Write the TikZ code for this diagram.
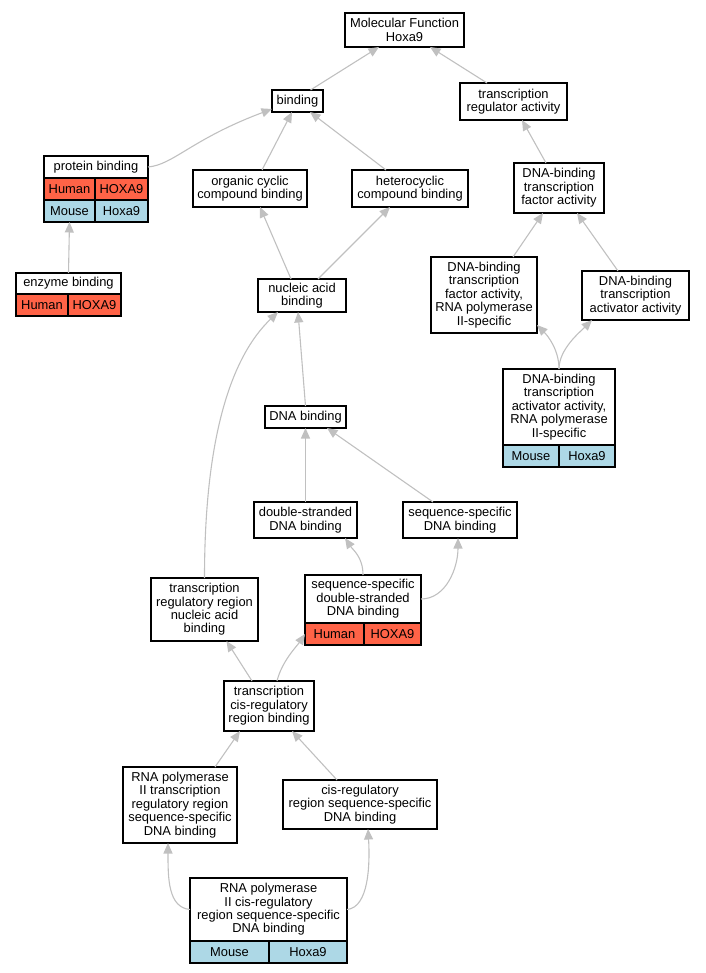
\documentclass[tikz,border=0pt]{standalone}
\usepackage{fontspec}
\setmainfont{Liberation Sans}
\usetikzlibrary{arrows.meta}
\definecolor{human}{HTML}{FF6347}
\definecolor{mouse}{HTML}{ADD8E6}
\definecolor{edgegray}{HTML}{C0C0C0}

\begin{document}
\begin{tikzpicture}[
				x=1pt,y=-1pt,
				term/.style={draw,rectangle,fill=white,line width=1.2pt,inner sep=0pt,outer sep=0pt,align=center,font=\fontsize{12.9}{13.4}\selectfont},
				human/.style={term,fill=human,minimum height=22pt},
				mouse/.style={term,fill=mouse,minimum height=22pt},
				isa/.style={draw=edgegray,line width=1.1pt,-{Triangle[length=10.5pt,width=9pt]}}
				]
				
				\useasboundingbox (0,0) rectangle (705,973);
				
				% Radice e primo livello
				\node[term,minimum width=119pt,minimum height=34pt] (mf) at (404.5,30) {Molecular Function\\Hoxa9};
				\node[term,minimum width=51pt,minimum height=22pt] (bind) at (297.5,101) {binding};
				\node[term,minimum width=107pt,minimum height=37pt] (tra) at (513.5,101.5) {transcription\\regulator activity};
				
				% protein binding (record)
				\node[term,minimum width=104pt,minimum height=22pt] (prot) at (96,167) {protein binding};
				\node[human,minimum width=51pt,anchor=north west] (prot-h1) at (prot.south west) {Human};
				\node[human,minimum width=53pt,anchor=north east] (prot-h2) at (prot.south east) {HOXA9};
				\node[mouse,minimum width=51pt,anchor=north west] (prot-m1) at (prot-h1.south west) {Mouse};
				\node[mouse,minimum width=53pt,anchor=north east] (prot-m2) at (prot-h2.south east) {Hoxa9};
				
				% enzyme binding (record)
				\node[term,minimum width=105pt,minimum height=21pt] (enz) at (68.5,283.5) {enzyme binding};
				\node[human,minimum width=52pt,anchor=north west] (enz-h1) at (enz.south west) {Human};
				\node[human,minimum width=53pt,anchor=north east] (enz-h2) at (enz.south east) {HOXA9};
				
				% Secondo livello
				\node[term,minimum width=114pt,minimum height=37pt] (org) at (250,188.5) {organic cyclic\\compound binding};
				\node[term,minimum width=116pt,minimum height=37pt] (het) at (410,188.5) {heterocyclic\\compound binding};
				\node[term,minimum width=90pt,minimum height=50pt] (dbtf) at (559,188) {DNA-binding\\transcription\\factor activity};
				
				% Terzo livello
				\node[term,minimum width=88pt,minimum height=33pt] (nab) at (302,295.5) {nucleic acid\\binding};
				\node[term,minimum width=106pt,minimum height=76pt] (dbtf2) at (484,295) {DNA-binding\\transcription\\factor activity,\\RNA polymerase\\II-specific};
				\node[term,minimum width=107pt,minimum height=49pt] (dbta) at (635.5,295.5) {DNA-binding\\transcription\\activator activity};
				
				% DBTA RNA pol II (record)
				\node[term,minimum width=112pt,minimum height=76pt] (dbta2) at (559,407) {DNA-binding\\transcription\\activator activity,\\RNA polymerase\\II-specific};
				\node[mouse,minimum width=56pt,anchor=north west] (dbta2-m1) at (dbta2.south west) {Mouse};
				\node[mouse,minimum width=56pt,anchor=north east] (dbta2-m2) at (dbta2.south east) {Hoxa9};
				
				% DNA binding
				\node[term,minimum width=81pt,minimum height=22pt] (dnab) at (305.5,417) {DNA binding};
				\node[term,minimum width=103pt,minimum height=36pt] (ds) at (305.5,520) {double-stranded\\DNA binding};
				\node[term,minimum width=114pt,minimum height=36pt] (ss) at (460,520) {sequence-specific\\DNA binding};
				\node[term,minimum width=107pt,minimum height=63pt] (trr) at (204.5,609.5) {transcription\\regulatory region\\nucleic acid\\binding};
				
				% sequence-specific double-stranded (record)
				\node[term,minimum width=116pt,minimum height=48pt] (ssds) at (363,599) {sequence-specific\\double-stranded\\DNA binding};
				\node[human,minimum width=59pt,anchor=north west] (ssds-h1) at (ssds.south west) {Human};
				\node[human,minimum width=57pt,anchor=north east] (ssds-h2) at (ssds.south east) {HOXA9};
				
				% Parte bassa
				\node[term,minimum width=90pt,minimum height=50pt] (cis) at (269,706) {transcription\\cis-regulatory\\region binding};
				\node[term,minimum width=114pt,minimum height=76pt] (pol2) at (180,805) {RNA polymerase\\II transcription\\regulatory region\\sequence-specific\\DNA binding};
				\node[term,minimum width=154pt,minimum height=49pt] (crs) at (360,804.5) {cis-regulatory\\region sequence-specific\\DNA binding};
				
				% RNA pol II cis-regulatory (record)
				\node[term,minimum width=157pt,minimum height=63pt] (bot) at (268.5,909.5) {RNA polymerase\\II cis-regulatory\\region sequence-specific\\DNA binding};
				\node[mouse,minimum width=79pt,anchor=north west] (bot-m1) at (bot.south west) {Mouse};
				\node[mouse,minimum width=78pt,anchor=north east] (bot-m2) at (bot.south east) {Hoxa9};
				
				% Connessioni
				\draw[isa] ([xshift=13pt]bind.north) -- ([xshift=-25.5pt]mf.south);
				\draw[isa] ([xshift=-26.5pt]tra.north) -- ([xshift=25.5pt]mf.south);
				\draw[isa] (prot.east) .. controls +(25,-2) and +(-80,30) .. ([yshift=3pt]bind.south west);
				\draw[isa] ([xshift=12pt]org.north) -- ([xshift=-5.5pt]bind.south);
				\draw[isa] ([xshift=-24pt]het.north) -- ([xshift=12.5pt]bind.south);
				\draw[isa] ([xshift=-13pt]dbtf.north) -- ([xshift=8.5pt]tra.south);
				\draw[isa] (enz.north) -- (prot-m1.south);
				\draw[isa] ([xshift=-11pt]nab.north) -- ([xshift=10pt]org.south);
				\draw[isa] ([xshift=16pt]nab.north) -- ([xshift=-20pt]het.south);
				\draw[isa] ([xshift=29pt]dbtf2.north) -- ([xshift=-16pt]dbtf.south);
				\draw[isa] ([xshift=-17.5pt]dbta.north) -- ([xshift=18pt]dbtf.south);
				\draw[isa] (dbta2.north) .. controls +(0,-20) and +(10,10) .. ([yshift=8pt]dbtf2.south east);
				\draw[isa] (dbta2.north) .. controls +(0,-20) and +(-12,12) .. ([xshift=-43.5pt]dbta.south);
				
				\draw[isa] (dnab.north) -- ([xshift=-4pt]nab.south);
				\draw[isa] (ds.north) -- (dnab.south);
				\draw[isa] ([xshift=-27pt]ss.north) -- ([xshift=21.5pt]dnab.south);
				\draw[isa] (trr.north) .. controls +(0,-138) and +(-48,46) .. ([xshift=-24pt]nab.south);
				\draw[isa] (ssds.north) .. controls +(0,-18) and +(8,12) .. ([xshift=39.5pt]ds.south);
				\draw[isa] (ssds.east) .. controls +(25,0) and +(0,30) .. ([xshift=-2pt]ss.south);
				
				\draw[isa] ([xshift=-17pt]cis.north) -- ([xshift=22pt]trr.south);
				\draw[isa] ([xshift=8pt]cis.north) .. controls +(5,-20) and +(-8,12) .. (ssds-h1.west);
				\draw[isa] ([xshift=35pt]pol2.north) -- ([xshift=-29pt]cis.south);
				\draw[isa] ([xshift=-23pt]crs.north) -- ([xshift=23pt]cis.south);
				\draw[isa] (bot.west) .. controls +(-22,-2) and +(0,35) .. ([xshift=-12pt]pol2.south);
				\draw[isa] (bot.east) .. controls +(22,-2) and +(2,35) .. ([xshift=8pt]crs.south);
				
			\end{tikzpicture}
\end{document}
